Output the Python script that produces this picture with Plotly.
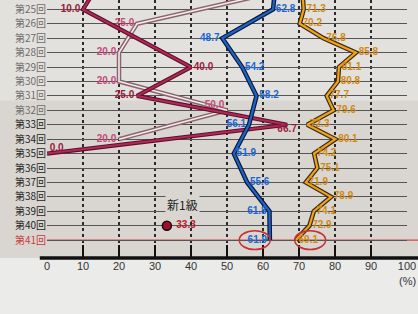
import plotly.graph_objects as go

# ---------------- data ----------------
rounds = list(range(25, 42))
round_labels = [f"第{r}回" for r in rounds]
x_ticks = [0, 10, 20, 30, 40, 50, 60, 70, 80, 90, 100]

# orange series (every round); round 24 value estimated (off the top)
orange_rounds = list(range(24, 42))
orange_vals = [71.0, 71.3, 70.2, 76.8, 85.8, 81.1, 80.8, 77.7, 79.6, 72.3,
               80.1, 74.2, 75.1, 71.9, 78.9, 74.1, 72.9, 69.1]

# blue series (odd rounds); round 23 value estimated (off the top)
blue_rounds = [23, 25, 27, 29, 31, 33, 35, 37, 39, 41]
blue_vals = [63.6, 62.8, 48.7, 54.2, 58.2, 56.1, 51.9, 55.6, 61.8, 61.9]

# dark red series; round 23 value estimated (off the top)
red_rounds = [23, 25, 29, 31, 33, 35]
red_vals = [15.0, 10.0, 40.0, 25.0, 66.7, 0.0]

# light pink series; round 24 value estimated (off the top)
pink_rounds = [24, 26, 28, 30, 32, 34]
pink_vals = [60.0, 25.0, 20.0, 20.0, 50.0, 20.0]

# new grade 1 single point
new1_rounds = [40]
new1_vals = [33.3]
new1_label = "新1級"

FIRST_ROUND = rounds[0]

# ---------------- styling ----------------
NUM_FONT = "Liberation Sans, Arial, sans-serif"
JP_FONT = "Noto Sans CJK JP, sans-serif"
PAD = "\u00a0"

blue_pos = ["middle right", "middle right", "middle left", "middle right", "middle right",
            "middle left", "middle right", "middle right", "middle left", "middle left"]
red_pos = ["middle left", "middle left", "middle right", "middle left", "bottom center", "top right"]
pink_pos = ["middle left", "middle left", "middle left", "middle left", "top left", "middle left"]


def fmt(rs, vals):
    return [f"{PAD}{v:.1f}{PAD}" if r >= FIRST_ROUND else "" for r, v in zip(rs, vals)]


fig = go.Figure()


def outlined(xs, ys, outer, inner, ow, iw, text=None, pos=None, tcolor=None):
    fig.add_trace(go.Scatter(x=xs, y=ys, mode="lines",
                             line=dict(color=outer, width=ow), hoverinfo="skip",
                             showlegend=False))
    fig.add_trace(go.Scatter(x=xs, y=ys, mode="lines+text" if text else "lines",
                             line=dict(color=inner, width=iw),
                             text=text, textposition=pos,
                             textfont=dict(family=NUM_FONT, size=10, color=tcolor, weight="bold"),
                             hoverinfo="skip", showlegend=False))


outlined(pink_vals, pink_rounds, "#8c6470", "#f3ecea", 4.5, 1.6,
         fmt(pink_rounds, pink_vals), pink_pos, "#c64a7c")
outlined(red_vals, red_rounds, "#5e0f2c", "#b02a58", 4.2, 2.0,
         fmt(red_rounds, red_vals), red_pos, "#9a1a3c")
outlined(blue_vals, blue_rounds, "#0b1838", "#1e64c8", 4.6, 2.2,
         fmt(blue_rounds, blue_vals), blue_pos, "#1a68d6")
outlined(orange_vals, orange_rounds, "#3a2a10", "#f0a21e", 4.6, 2.2,
         fmt(orange_rounds, orange_vals), "middle right", "#d08a12")

fig.add_trace(go.Scatter(x=new1_vals, y=new1_rounds, mode="markers+text",
                         marker=dict(color="#a0102a", size=9, line=dict(color="#1a0a0a", width=1.5)),
                         text=fmt(new1_rounds, new1_vals), textposition="middle right",
                         textfont=dict(family=NUM_FONT, size=10, color="#c01a30", weight="bold"),
                         hoverinfo="skip", showlegend=False))

tick_text = []
for r, lab in zip(rounds, round_labels):
    if r == 41:
        tick_text.append(f'<span style="color:#c83a3a">{lab}</span>')
    elif r <= 32:
        tick_text.append(f'<span style="color:#6e6c6a">{lab}</span>')
    else:
        tick_text.append(f'<span style="color:#262422">{lab}</span>')

shapes = [
    # lighter upper paper region
    dict(type="rect", xref="paper", yref="paper", x0=-0.2, x1=1.1, y0=0.61, y1=1.0,
         fillcolor="#e3e1dd", line=dict(width=0), layer="below"),
    # bright paper below axis
    dict(type="rect", xref="paper", yref="paper", x0=-0.2, x1=1.1, y0=-0.3, y1=0.0,
         fillcolor="#ebebea", line=dict(width=0), layer="below"),
    # red line at round 41
    dict(type="line", xref="paper", yref="y", x0=0, x1=1.04, y0=41, y1=41,
         line=dict(color="#d44848", width=1.2), layer="between"),
    # thick axis line
    dict(type="line", xref="paper", yref="paper", x0=-0.02, x1=1.04, y0=0, y1=0,
         line=dict(color="#111111", width=3.5), layer="above"),
    # red ellipses around last values
    dict(type="circle", xref="x", yref="y", x0=53.4, x1=62.0, y0=40.35, y1=41.65,
         line=dict(color="#c83030", width=1.5), layer="above"),
    dict(type="circle", xref="x", yref="y", x0=68.8, x1=77.4, y0=40.35, y1=41.65,
         line=dict(color="#c83030", width=1.5), layer="above"),
]

annotations = [
    dict(x=37.5, y=38.5, xref="x", yref="y", text=new1_label, showarrow=False,
         font=dict(family=JP_FONT, size=12, color="#1e1e1e"), bgcolor="#d9d6d1"),
    dict(x=100, y=-0.09, xref="x", yref="paper", text="(%)", showarrow=False,
         xanchor="center", yanchor="middle",
         font=dict(family=NUM_FONT, size=11, color="#333333")),
]

fig.update_layout(
    width=418, height=314,
    margin=dict(l=47, r=11, t=0, b=56),
    paper_bgcolor="#d9d6d1",
    plot_bgcolor="rgba(0,0,0,0)",
    font=dict(family=JP_FONT, color="#333"),
    shapes=shapes,
    annotations=annotations,
    xaxis=dict(range=[0, 100], tickvals=x_ticks, ticktext=[str(t) for t in x_ticks],
               showgrid=True, gridcolor="#2a2a2a", griddash="dot", gridwidth=1.5,
               zeroline=False, showline=False,
               ticks="inside", ticklen=13, tickwidth=2, tickcolor="#111",
               tickfont=dict(family=NUM_FONT, size=11, color="#333")),
    yaxis=dict(range=[42.24, 24.35], tickvals=rounds, ticktext=tick_text,
               showgrid=True, gridcolor="#555555", gridwidth=1,
               zeroline=False, showline=False, ticks="",
               ticklabeloverflow="allow",
               tickfont=dict(family=JP_FONT, size=10)),
)

fig.write_html("out.html", config={"displayModeBar": False})
